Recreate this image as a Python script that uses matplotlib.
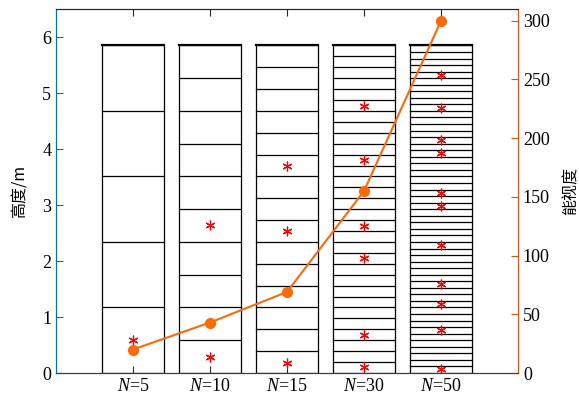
import numpy as np
import matplotlib
matplotlib.use('Agg')
import matplotlib.pyplot as plt

plt.rcParams['font.family'] = ['Liberation Serif', 'Noto Sans CJK SC']
plt.rcParams['mathtext.fontset'] = 'custom'
plt.rcParams['mathtext.it'] = 'Liberation Serif:italic'
plt.rcParams['mathtext.rm'] = 'Liberation Serif'

# data
labels = ['5', '10', '15', '30', '50']
n_layers = [5, 10, 15, 30, 50]
total_height = 5.85
visibility = [20, 43, 69, 155, 300]
points = [
    [0.59],
    [0.29, 2.64],
    [0.18, 2.54, 3.70],
    [0.10, 0.68, 2.05, 2.63, 3.80, 4.77],
    [0.07, 0.77, 1.23, 1.59, 2.29, 2.99, 3.22, 3.92, 4.16, 4.74, 5.33],
]

fig = plt.figure(figsize=(5.79, 4.0), dpi=100)
ax = fig.add_axes([0.0967, 0.0675, 0.798, 0.91])
ax2 = ax.twinx()

blue = '#0072BD'
orange = '#D95319'
line_c = '#FF6A00'
w = 0.8

for i, n in enumerate(n_layers):
    x = i + 1
    ax.add_patch(plt.Rectangle((x - w / 2, 0), w, total_height, fill=False,
                               edgecolor='black', lw=0.9))
    for k in range(1, n + 1):
        h = total_height * k / n
        ax.plot([x - w / 2, x + w / 2], [h, h], color='black', lw=0.9 if k < n else 1.6)
    ax.plot([x] * len(points[i]), points[i], linestyle='none', marker=(6, 2, 0),
            color='red', markersize=7, mew=0.9)

xs = np.arange(1, len(labels) + 1)
ax2.plot(xs, visibility, color=line_c, lw=1.5, marker='o', markersize=7)

ax.set_xlim(0, 6)
ax.set_ylim(0, 6.5)
ax2.set_ylim(0, 310)
ax.set_xticks(xs)
ax.set_xticklabels(['$N$=' + s for s in labels], fontsize=13)
ax.set_yticks(range(0, 7))
ax2.set_yticks(range(0, 301, 50))

ax.tick_params(axis='x', direction='in', top=True, length=5, color='#262626')
ax.tick_params(axis='y', direction='in', length=5, color=blue, labelsize=13)
ax2.tick_params(axis='y', direction='in', length=5, color=orange, labelsize=13)

for a in (ax, ax2):
    a.spines['left'].set_color(blue)
    a.spines['right'].set_color(orange)
    a.spines['top'].set_color('#262626')
    a.spines['bottom'].set_color('#26415a')

ax.set_ylabel('高度/m', fontsize=11.5, family=['Noto Sans CJK SC'], labelpad=10)
ax2.set_ylabel('能视度', fontsize=11.5, family=['Noto Sans CJK SC'], labelpad=9)

fig.savefig('out.png', dpi=100)
